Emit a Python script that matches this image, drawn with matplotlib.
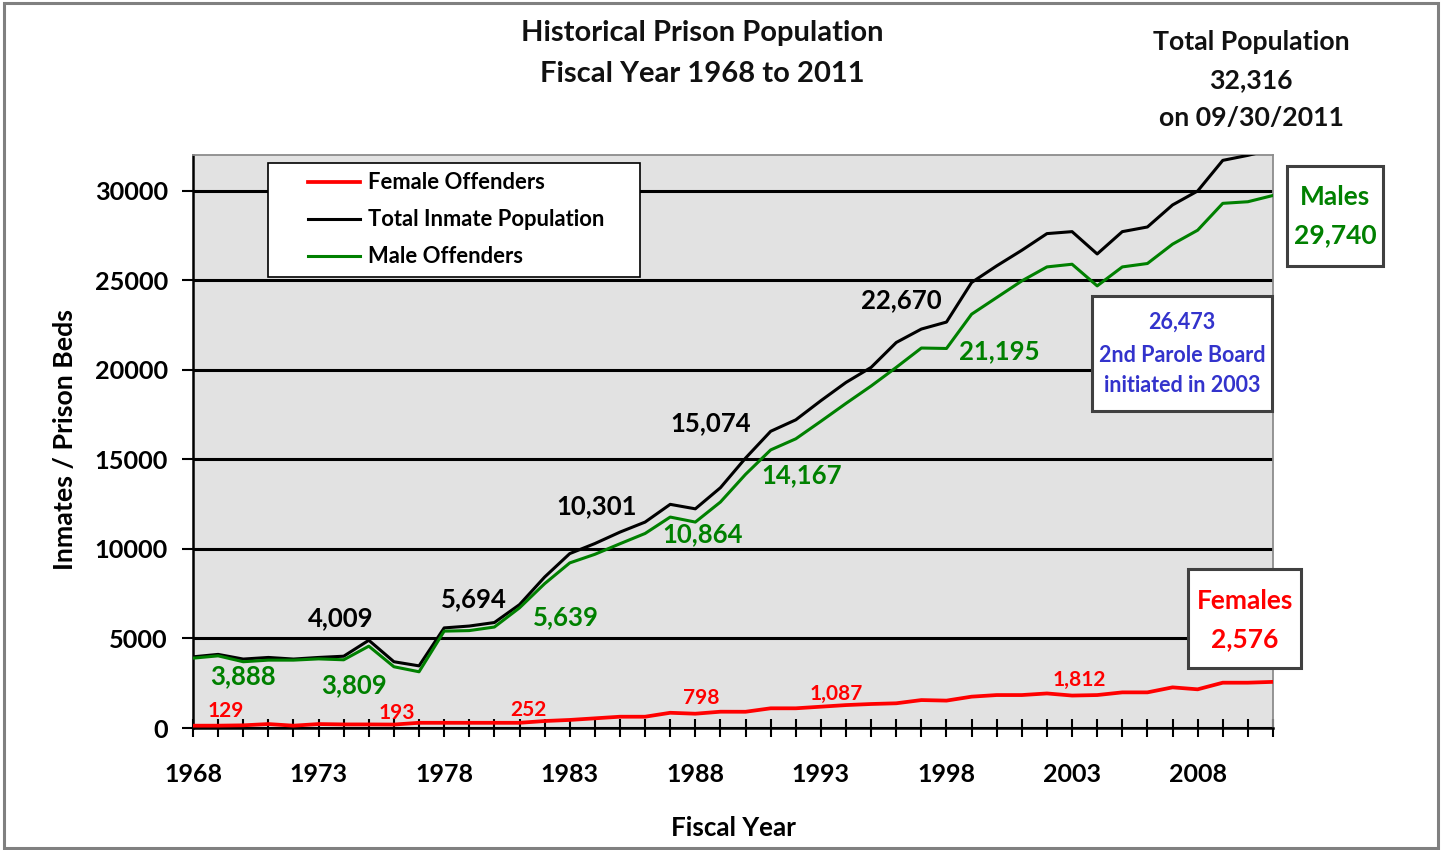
import matplotlib
matplotlib.use('Agg')
import matplotlib.pyplot as plt
from matplotlib.patches import Rectangle
from matplotlib.lines import Line2D
from matplotlib.legend_handler import HandlerLine2D

plt.rcParams['font.family'] = ['Lato', 'DejaVu Sans']
plt.rcParams['font.weight'] = 'bold'

# ---------------- data ----------------
years = list(range(1968, 2012))
total = [3974, 4110, 3850, 3940, 3850, 3940, 4009, 4900, 3700, 3470,
         5590, 5694, 5890, 6890, 8430, 9740, 10301, 10940, 11500, 12490,
         12240, 13420, 15074, 16570, 17210, 18280, 19300, 20140, 21530, 22280,
         22670, 24880, 25810, 26680, 27610, 27720, 26473, 27720, 27980, 29210,
         29990, 31700, 31980, 32316]
male = [3900, 4030, 3700, 3790, 3790, 3860, 3809, 4570, 3420, 3140,
        5410, 5440, 5639, 6710, 8060, 9220, 9700, 10290, 10864, 11780,
        11500, 12620, 14167, 15530, 16150, 17130, 18130, 19100, 20140, 21220,
        21195, 23110, 24040, 24970, 25750, 25900, 24690, 25750, 25940, 27020,
        27800, 29300, 29390, 29740]
female = [129, 130, 150, 220, 130, 220, 200, 200, 193, 290,
          290, 290, 290, 290, 390, 450, 540, 630, 630, 850,
          798, 910, 907, 1100, 1100, 1190, 1280, 1340, 1380, 1560,
          1530, 1750, 1840, 1840, 1930, 1812, 1840, 1990, 1990, 2270,
          2160, 2530, 2530, 2576]

series_names = ["Female Offenders", "Total Inmate Population", "Male Offenders"]
y_ticks = [0, 5000, 10000, 15000, 20000, 25000, 30000]
x_label_years = [1968, 1973, 1978, 1983, 1988, 1993, 1998, 2003, 2008]

total_labels = [("4,009", 1973.9, 6140), ("5,694", 1979.2, 7200),
                ("10,301", 1984.05, 12400), ("15,074", 1988.6, 17030),
                ("22,670", 1996.2, 23900)]
male_labels = [("3,888", 1970.0, 2900), ("3,809", 1974.4, 2400),
               ("5,639", 1982.85, 6200), ("10,864", 1988.3, 10830),
               ("14,167", 1992.25, 14130), ("21,195", 2000.1, 21050)]
female_labels = [("129", 1969.3, 950), ("193", 1976.1, 840),
                 ("252", 1981.35, 1000), ("798", 1988.25, 1680),
                 ("1,087", 1993.6, 1900), ("1,812", 2003.3, 2680)]

title_lines = ["Historical Prison Population", "Fiscal Year 1968 to 2011"]
total_note = ["Total Population", "32,316", "on 09/30/2011"]
males_note = ["Males", "29,740"]
females_note = ["Females", "2,576"]
parole_note = ["26,473", "2nd Parole Board", "initiated in 2003"]

RED = '#FF0000'
GREEN = '#008000'
BLACK = '#000000'
BLUE = '#3333CC'

# ---------------- figure ----------------
W, H = 1443, 850
def fx(px):
    return px / W
def fy(py):
    return 1 - py / H

fig = plt.figure(figsize=(W / 100, H / 100), dpi=100)
fig.patch.set_facecolor('white')

# outer border
fig.patches.append(Rectangle((fx(4), fy(848)), 1434 / W, 845 / H, transform=fig.transFigure,
                             fill=False, edgecolor='#808080', linewidth=2.2, zorder=0))

ax = fig.add_axes([fx(193), fy(728), 1080 / W, 573 / H])
ax.set_facecolor('#E2E2E2')

ax.plot(years, female, color=RED, lw=2.7, label=series_names[0], zorder=3)
ax.plot(years, total, color=BLACK, lw=2.2, label=series_names[1], zorder=3)
ax.plot(years, male, color=GREEN, lw=2.2, label=series_names[2], zorder=3)

ax.set_xlim(1968, 2011)
ax.set_ylim(0, 32000)
ax.set_yticks(y_ticks)
ax.set_yticklabels([str(v) for v in y_ticks])
ax.set_xticks(years)
ax.set_xticklabels([str(y) if y in x_label_years else '' for y in years])

ax.yaxis.grid(True, color='black', linewidth=2.2)
ax.set_axisbelow(True)

ax.tick_params(axis='y', direction='out', length=8, width=1.5, pad=10,
               labelsize=18.2, colors='black')
ax.tick_params(axis='x', direction='inout', length=13, width=1.5, pad=19,
               labelsize=18, colors='black')
for lab in ax.get_xticklabels() + ax.get_yticklabels():
    lab.set_fontweight('bold')

for s in ['left', 'bottom']:
    ax.spines[s].set_color('black')
    ax.spines[s].set_linewidth(1.8)
for s in ['top', 'right']:
    ax.spines[s].set_color('#8C8C8C')
    ax.spines[s].set_linewidth(1.3)

# data labels
for txt, x, y in total_labels:
    ax.text(x, y, txt, color=BLACK, fontsize=18.5, fontweight='bold', ha='center', va='center', zorder=4)
for txt, x, y in male_labels:
    ax.text(x, y, txt, color=GREEN, fontsize=18.5, fontweight='bold', ha='center', va='center', zorder=4)
for txt, x, y in female_labels:
    ax.text(x, y, txt, color=RED, fontsize=15, fontweight='bold', ha='center', va='center', zorder=4)

# legend
fs_leg = 15.8
leg = ax.legend(loc='upper left', bbox_to_anchor=(fx(268), fy(270), 372 / W, 107 / H),
                bbox_transform=fig.transFigure, mode='expand', ncols=1,
                prop={'size': fs_leg, 'weight': 'bold'}, frameon=True, fancybox=False,
                framealpha=1, edgecolor='black', borderpad=0.43, labelspacing=0.73,
                handlelength=5.17, handletextpad=-1.03, borderaxespad=0,
                handler_map={Line2D: HandlerLine2D(marker_pad=1.40, numpoints=2)})
leg.get_frame().set_linewidth(1.2)
leg.set_zorder(10)

# axis labels
fig.text(fx(65), fy(440), "Inmates / Prison Beds", rotation=90, ha='center', va='center',
         fontsize=19.3, fontweight='bold')
fig.text(fx(733), fy(828), "Fiscal Year", ha='center', va='center', fontsize=18.7, fontweight='bold')

# title
fig.text(fx(702), fy(33), title_lines[0], ha='center', va='center', fontsize=21, fontweight='bold', color='#111111')
fig.text(fx(702), fy(74), title_lines[1], ha='center', va='center', fontsize=21, fontweight='bold', color='#111111')

# top-right note
for txt, py in zip(total_note, [42, 80, 118]):
    fig.text(fx(1251), fy(py), txt, ha='center', va='center', fontsize=19.2, fontweight='bold', color='#111111')

def box(x0, y0, x1, y1):
    fig.patches.append(Rectangle((fx(x0), fy(y1)), (x1 - x0) / W, (y1 - y0) / H,
                                 transform=fig.transFigure, facecolor='white',
                                 edgecolor='#404040', linewidth=2.2, zorder=5))

box(1287, 166, 1383, 266)
for txt, py in zip(males_note, [197, 235]):
    fig.text(fx(1335), fy(py), txt, ha='center', va='center', fontsize=19, fontweight='bold', color=GREEN, zorder=6)

box(1188, 569, 1301, 668)
for txt, py in zip(females_note, [601, 639]):
    fig.text(fx(1245), fy(py), txt, ha='center', va='center', fontsize=19, fontweight='bold', color=RED, zorder=6)

box(1092, 296, 1272, 411)
for txt, py in zip(parole_note, [322, 355, 386]):
    fig.text(fx(1182), fy(py), txt, ha='center', va='center', fontsize=15.5, fontweight='bold', color=BLUE, zorder=6)

fig.savefig('out.png', dpi=100)
